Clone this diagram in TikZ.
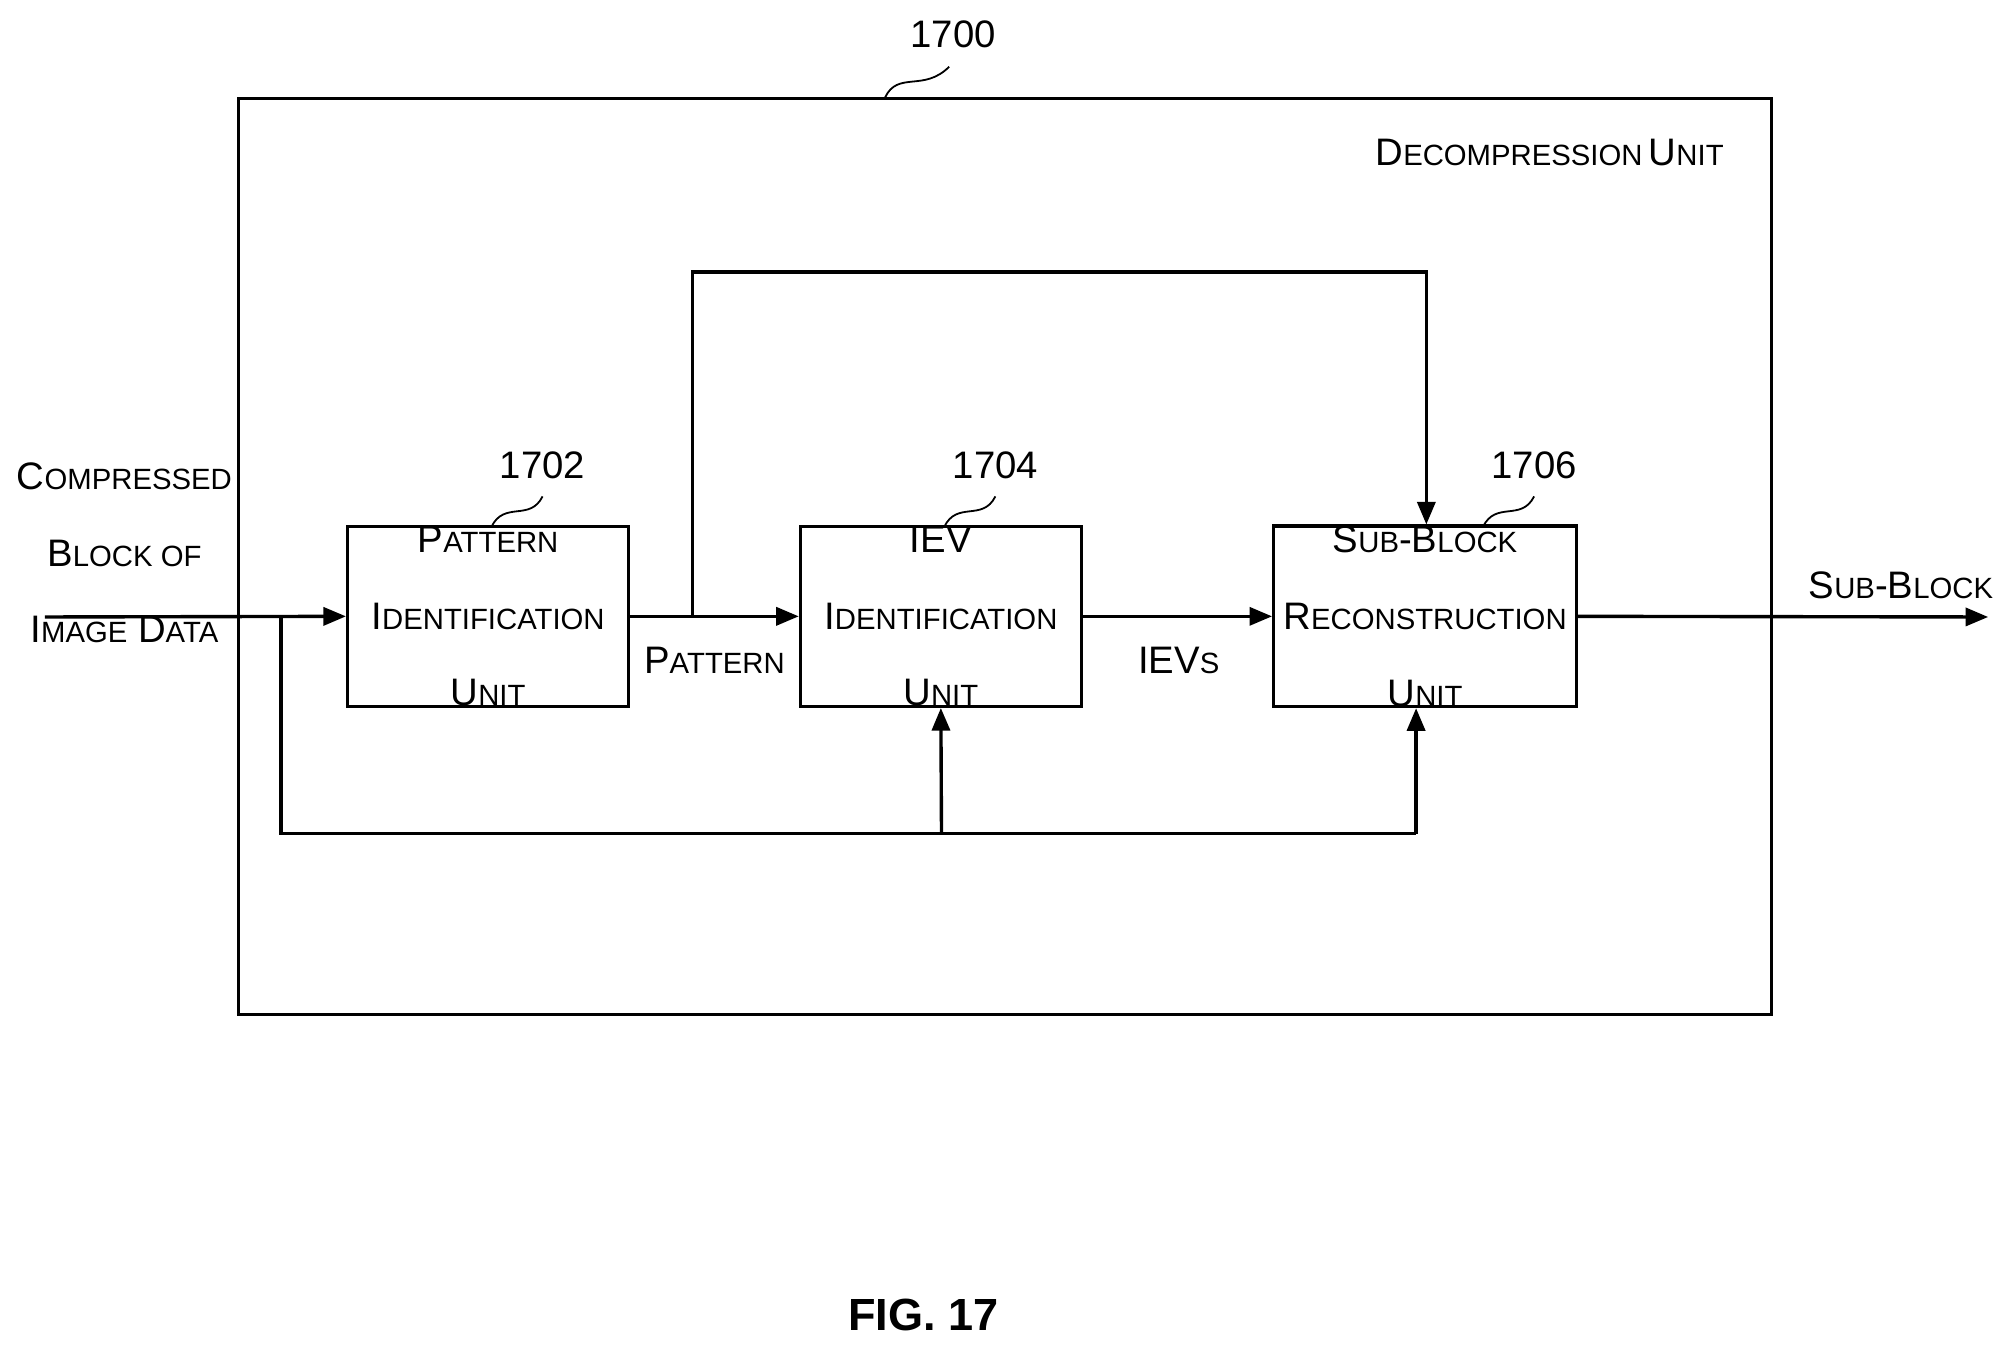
\documentclass[tikz,border=0pt]{standalone}
\usepackage{fontspec}
\setmainfont{Liberation Sans}
\usetikzlibrary{arrows.meta}
\newcommand{\smc}[2]{{\fontsize{17}{20}\selectfont #1}{\fontsize{13}{20}\selectfont #2}}
\tikzset{
  unit/.style={draw,line width=1.5pt,minimum width=#1,minimum height=2.7cm,align=center,
               font=\fontsize{17}{34}\selectfont,inner sep=0pt},
  flow/.style={line width=1.5pt,-{Triangle[length=10pt,width=8pt]}},
  wire/.style={line width=1.5pt},
  refnum/.style={font=\fontsize{17}{20}\selectfont},
  squig/.style={line width=0.8pt}
}
\begin{document}
\begin{tikzpicture}[x=0.02cm,y=-0.02cm]
\useasboundingbox (0,0) rectangle (1560,1048);
% frame
\draw[wire] (186,77) rectangle (1381,791);
\node[refnum] (n1700) at (743,27) {1700};
\draw[squig] (690,76) .. controls (700,55) and (720,72) .. (740,52);
\node[anchor=east] (title) at (1350,119) {\smc{D}{ECOMPRESSION} \smc{U}{NIT}};

% units
\node[unit=4.38cm] (pat) at (380.5,480.5) {\smc{P}{ATTERN}\\\smc{I}{DENTIFICATION}\\\smc{U}{NIT}};
\node[unit=4.38cm] (iev) at (733.5,480.5) {\smc{IEV}{}\\\smc{I}{DENTIFICATION}\\\smc{U}{NIT}};
\node[unit=4.72cm] (rec) at (1111,480.5) {\smc{S}{UB}\smc{-B}{LOCK}\\\smc{R}{ECONSTRUCTION}\\\smc{U}{NIT}};
\node[refnum] (n1702) at (423,363) {1702};
\node[refnum] (n1704) at (776,363) {1704};
\node[refnum] (n1706) at (1196,363) {1706};
\draw[squig] (383,411) .. controls (393,390) and (413,407) .. (423,387);
\draw[squig] (736,411) .. controls (746,390) and (766,407) .. (776,387);
\draw[squig] (1156,411) .. controls (1166,390) and (1186,407) .. (1196,387);

% main path
\coordinate (in) at (35,481);
\coordinate (out) at (1550,481);
\coordinate (split) at (219,481);
\coordinate (tap) at (540,481);
\draw[flow] (in) -- (pat.west);
\draw[flow] (pat.east) -- (iev.west);
\draw[flow] (iev.east) -- (rec.west);
\draw[flow] (rec.east) -- (out);
\node[align=center,font=\fontsize{17}{34}\selectfont] (inlbl) at (97,431) {\smc{C}{OMPRESSED}\\\smc{B}{LOCK OF}\\\smc{I}{MAGE} \smc{D}{ATA}};
\node (patlbl) at (557,515) {\smc{P}{ATTERN}};
\node (ievlbl) at (919,515) {\smc{IEV}{S}};
\node (outlbl) at (1482,456) {\smc{S}{UB}\smc{-B}{LOCK}};

% bypass and feed lines
\draw[flow] (tap) -- (540,212) -- (1112,212) -- (rec.north -| 1112,0);
\draw[wire] (split) -- (219,650) -- (1104,650);
\draw[flow] (1104,650) -- (rec.south -| 1104,0);
\draw[flow] (734,650) -- (iev.south);

\node[font=\bfseries\fontsize{20}{24}\selectfont] (fig) at (720,1025) {FIG. 17};
\end{tikzpicture}
\end{document}
